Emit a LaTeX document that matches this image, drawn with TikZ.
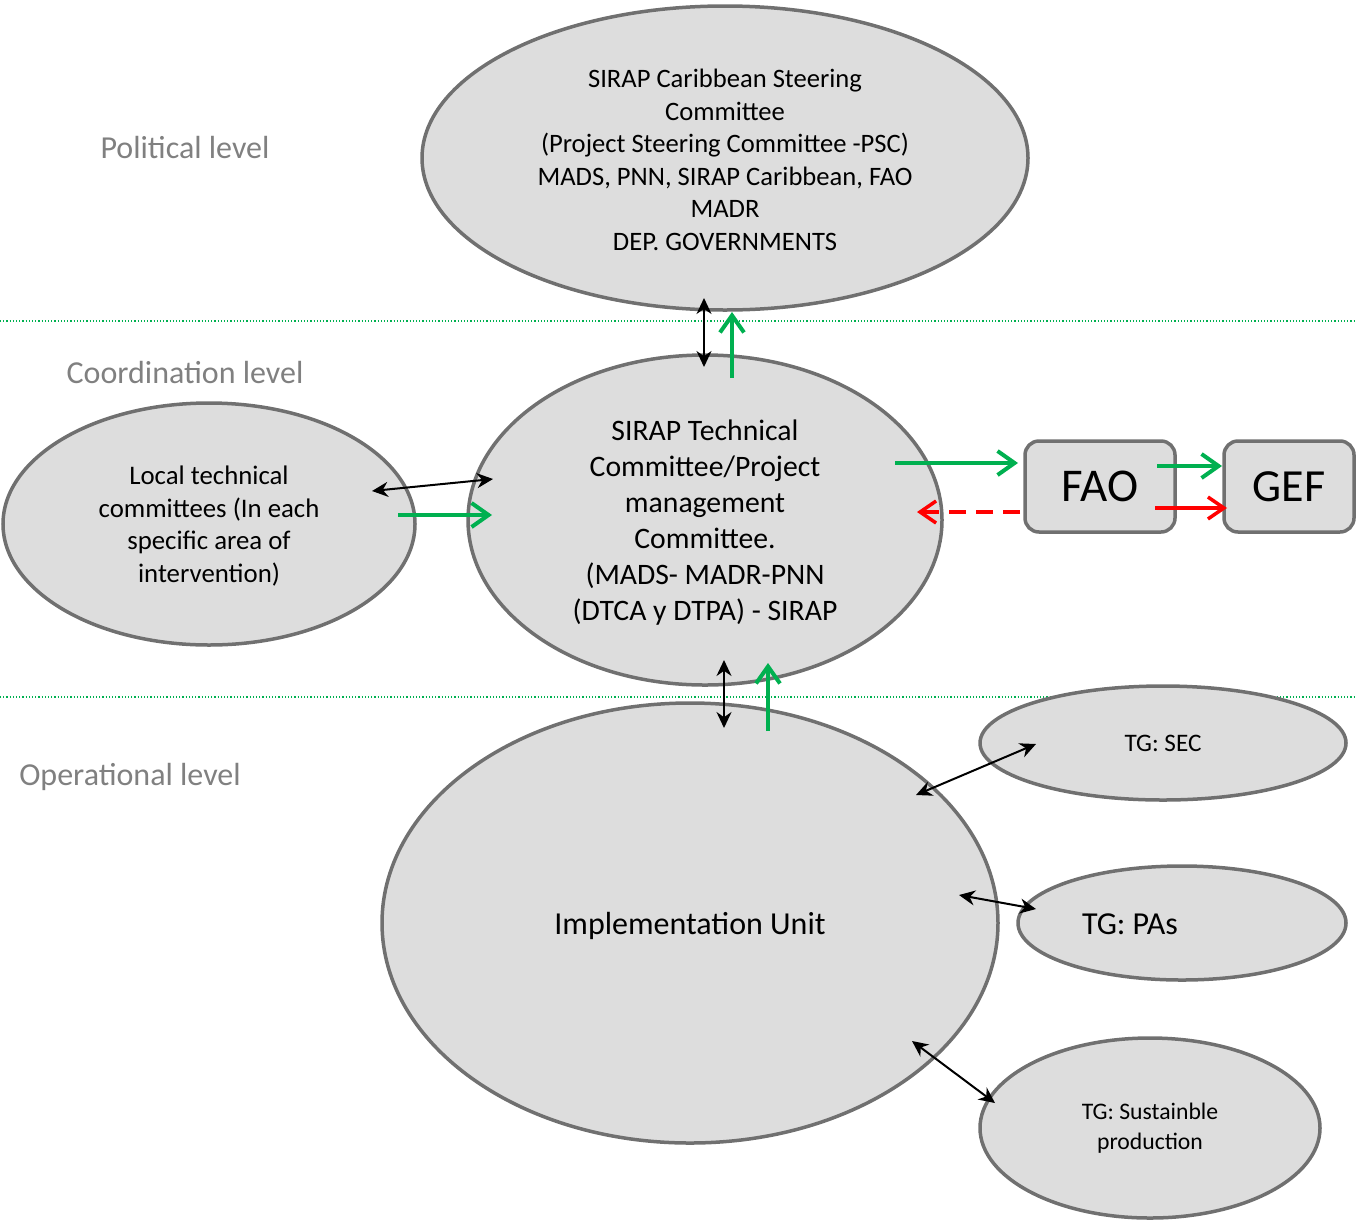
\documentclass[tikz,border=0pt]{standalone}
\usepackage{fontspec}
\setmainfont{Carlito}
\usetikzlibrary{shapes.geometric,arrows.meta,calc}
\definecolor{ellfill}{RGB}{221,221,221}
\definecolor{ellline}{RGB}{112,112,112}
\definecolor{grn}{RGB}{0,176,80}
\definecolor{lvl}{RGB}{128,128,128}
\tikzset{
  ell/.style={ellipse, draw=ellline, fill=ellfill, line width=3.5pt, inner sep=0pt, align=center, text=black},
  rbox/.style={rectangle, rounded corners=14pt, draw=ellline, fill=ellfill, line width=3.5pt, inner sep=0pt, text=black},
  lvltext/.style={text=lvl, font=\fontsize{32}{36}\selectfont},
  blk/.style={{Stealth[length=16pt,width=15pt]}-{Stealth[length=16pt,width=15pt]}, line width=2pt, black},
  garr/.style={-{Straight Barb[length=17pt,width=24pt]}, line width=4pt, grn},
  rarr/.style={-{Straight Barb[length=16pt,width=22pt]}, line width=3.5pt, red},
  sep/.style={grn, line width=1.2pt, dotted}
}
\begin{document}
\begin{tikzpicture}[x=1pt,y=-1pt]
\useasboundingbox (0,0) rectangle (1356,1221);
% separators
\draw[sep] (0,321) coordinate (s1a) -- (1356,321) coordinate (s1b);
\draw[sep] (0,697) coordinate (s2a) -- (1356,697) coordinate (s2b);
% level labels
\node[lvltext] (pol) at (185,148) {Political level};
\node[lvltext] (coo) at (185,372) {Coordination level};
\node[lvltext] (ope) at (130,777) {Operational level};
% ellipses
\node[ell, minimum width=606pt, minimum height=304pt] (psc) at (725,158) {};
\node[align=center, font=\fontsize{26.6}{32.5}\selectfont] (psct) at (725,160)
 {SIRAP Caribbean Steering\\Committee\\(Project Steering Committee -PSC)\\MADS, PNN, SIRAP Caribbean, FAO\\MADR\\DEP. GOVERNMENTS};
\node[ell, minimum width=474pt, minimum height=330pt] (ptc) at (705,520) {};
\node[align=center, font=\fontsize{29.7}{36}\selectfont] (ptct) at (705,523)
 {SIRAP Technical\\Committee/Project\\management\\Committee.\\(MADS- MADR-PNN\\(DTCA y DTPA) - SIRAP};
\node[ell, minimum width=412pt, minimum height=242pt] (ltc) at (209,524) {};
\node[align=center, font=\fontsize{26.8}{32.5}\selectfont] (ltct) at (209,526)
 {Local technical\\committees (In each\\specific area of\\intervention)};
\node[ell, minimum width=616pt, minimum height=440pt] (iu) at (690,923) {};
\node[font=\fontsize{32}{36}\selectfont] (iut) at (690,926) {Implementation Unit};
\node[ell, minimum width=366pt, minimum height=114pt, font=\fontsize{25.2}{30}\selectfont] (sec) at (1163,743)
 {TG: SEC};
\node[ell, minimum width=328pt, minimum height=114pt] (pas) at (1182,923) {};
\node[font=\fontsize{32}{36}\selectfont] (past) at (1130,924) {TG: PAs};
\node[ell, minimum width=340pt, minimum height=180pt, font=\fontsize{23.7}{30}\selectfont] (sus) at (1150,1128)
 {TG: Sustainble\\production};
% boxes
\node[rbox, minimum width=150pt, minimum height=91pt, font=\fontsize{47}{50}\selectfont] (fao) at (1100,486.5) {FAO};
\node[rbox, minimum width=130pt, minimum height=91pt, font=\fontsize{46}{50}\selectfont] (gef) at (1289,486.5) {GEF};
% connector end points
\coordinate (a1) at (704,298); \coordinate (a2) at (704,367);
\coordinate (g1) at (732,378); \coordinate (g2) at (732,312);
\coordinate (b1) at (372,491); \coordinate (b2) at (493,479);
\coordinate (g3) at (398,515); \coordinate (g4) at (492,515);
\coordinate (g5) at (895,463); \coordinate (g6) at (1018,463);
\coordinate (r1) at (1020,512); \coordinate (r2) at (917,512);
\coordinate (g7) at (1157,466); \coordinate (g8) at (1222,466);
\coordinate (r3) at (1155,508); \coordinate (r4) at (1227,508);
\coordinate (c1) at (724,660); \coordinate (c2) at (724,728);
\coordinate (g9) at (768,731); \coordinate (g10) at (768,663);
\coordinate (d1) at (916,795); \coordinate (d2) at (1036,744);
\coordinate (e1) at (959,895); \coordinate (e2) at (1036,909);
\coordinate (f1) at (912,1041); \coordinate (f2) at (995,1103);
% connectors
\draw[blk] (a1) -- (a2);
\draw[garr] (g1) -- (g2);
\draw[blk] (b1) -- (b2);
\draw[garr] (g3) -- (g4);
\draw[garr] (g5) -- (g6);
\draw[rarr, dash pattern=on 17pt off 10pt] (r1) -- (r2);
\draw[garr] (g7) -- (g8);
\draw[rarr] (r3) -- (r4);
\draw[blk] (c1) -- (c2);
\draw[garr] (g9) -- (g10);
\draw[blk] (d1) -- (d2);
\draw[blk] (e1) -- (e2);
\draw[blk] (f1) -- (f2);
\end{tikzpicture}
\end{document}
